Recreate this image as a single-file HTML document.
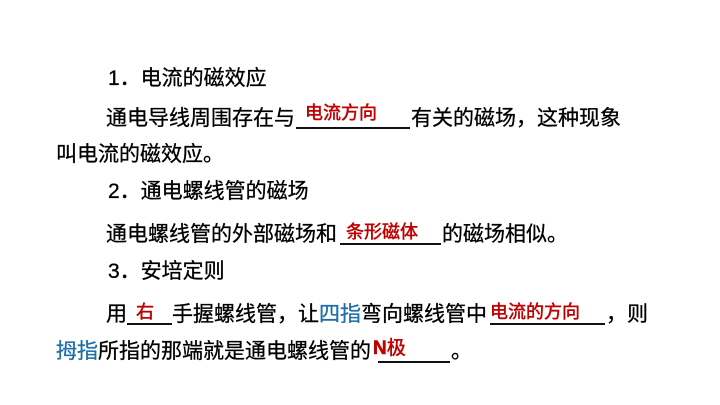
<!DOCTYPE html>
<html><head><meta charset="utf-8"><style>
body{margin:0;width:720px;height:405px;background:#fff;overflow:hidden;position:relative;font-family:"Liberation Sans","Noto Sans CJK SC",sans-serif;color:#000}
.t{position:absolute;font-size:21px;line-height:24px;white-space:nowrap;-webkit-text-stroke:0.3px #000}
.r{position:absolute;font-size:18px;line-height:20px;color:#c00000;white-space:nowrap;-webkit-text-stroke:0.5px #c00000}
.u{position:absolute;height:2px;background:#111}
.b{color:#1d6fa8;-webkit-text-stroke:0.3px #1d6fa8}
</style></head><body>
<div class="t" style="left:108px;top:67px">1．电流的磁效应</div>
<div class="t" style="left:106px;top:107px">通电导线周围存在与</div>
<div class="u" style="left:296px;top:127px;width:114px"></div>
<div class="r" style="left:305px;top:103px">电流方向</div>
<div class="t" style="left:411px;top:107px">有关的磁场，这种现象</div>
<div class="t" style="left:56px;top:143px">叫电流的磁效应。</div>
<div class="t" style="left:108px;top:180px">2．通电螺线管的磁场</div>
<div class="t" style="left:106px;top:223px">通电螺线管的外部磁场和</div>
<div class="u" style="left:340px;top:243px;width:101px"></div>
<div class="r" style="left:346px;top:222px">条形磁体</div>
<div class="t" style="left:442px;top:223px">的磁场相似。</div>
<div class="t" style="left:108px;top:260px">3．安培定则</div>
<div class="t" style="left:106px;top:303px">用</div>
<div class="u" style="left:127px;top:323px;width:45px"></div>
<div class="r" style="left:136px;top:302px">右</div>
<div class="t" style="left:172px;top:303px">手握螺线管，让<span class="b">四指</span>弯向螺线管中</div>
<div class="u" style="left:490px;top:323px;width:115px"></div>
<div class="r" style="left:490px;top:302px">电流的方向</div>
<div class="t" style="left:606px;top:303px">，则</div>
<div class="t" style="left:56px;top:340px"><span class="b">拇指</span>所指的那端就是通电螺线管的</div>
<div class="u" style="left:378px;top:361px;width:72px"></div>
<div class="r" style="left:373px;top:339px;font-size:19px"><b>N</b>极</div>
<div class="t" style="left:451px;top:340px">。</div>
</body></html>
